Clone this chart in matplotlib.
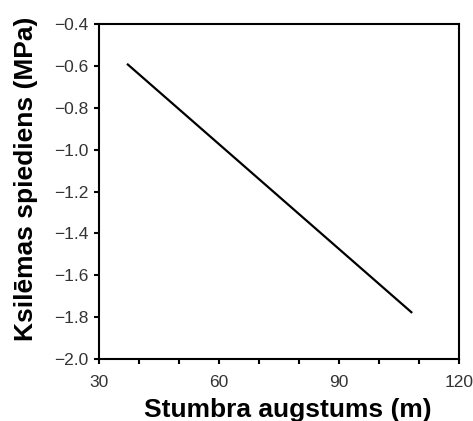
import matplotlib
matplotlib.use('Agg')
import matplotlib.pyplot as plt
from matplotlib.ticker import MultipleLocator

plt.rcParams['font.family'] = ['Liberation Sans', 'DejaVu Sans']

# data
height_m = [37, 108.3]
pressure_mpa = [-0.59, -1.78]

x_ticks = [30, 60, 90, 120]
y_ticks = [-2.0, -1.8, -1.6, -1.4, -1.2, -1.0, -0.8, -0.6, -0.4]

#####################################################################################################################

fig = plt.figure(figsize=(4.73, 4.21), dpi=100)
ax = fig.add_axes([99 / 473, 1 - 359 / 421, 360 / 473, 335 / 421])

ax.plot(height_m, pressure_mpa, color='black', lw=1.6, solid_capstyle='butt')

ax.set_xlim(30, 120)
ax.set_ylim(-2.0, -0.4)
ax.set_xticks(x_ticks)
ax.xaxis.set_minor_locator(MultipleLocator(10))
ax.set_yticks(y_ticks)
ax.set_yticklabels([f'{v:.1f}'.replace('-', '\u2212') for v in y_ticks])

for s in ax.spines.values():
    s.set_linewidth(1.5)

ax.tick_params(which='both', direction='out', length=3.5, width=1.5, colors='black',
               labelcolor='#333333', labelsize=12.5)
ax.tick_params(axis='x', which='major', pad=8)
ax.tick_params(axis='y', pad=4)

ax.set_xlabel('Stumbra augstums (m)', fontsize=19, fontweight='bold', va='baseline')
ax.set_ylabel('Ksilēmas spiediens (MPa)', fontsize=19, fontweight='bold', va='baseline')
ax.xaxis.set_label_coords(0.524, -0.173)
ax.yaxis.set_label_coords(-0.183, 0.539)

fig.savefig('out.png', dpi=100)
